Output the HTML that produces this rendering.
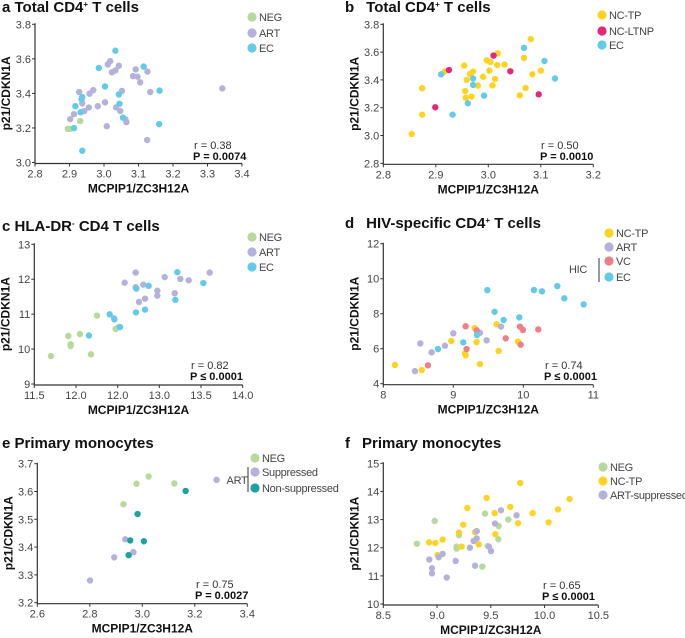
<!DOCTYPE html>
<html><head><meta charset="utf-8"><style>
body{margin:0;background:#fff;}
svg{display:block;font-family:"Liberation Sans",sans-serif;}
.tk{font-size:11px;fill:#444;}
.tt{font-size:15px;font-weight:bold;fill:#111;}
.at{font-size:12px;font-weight:bold;fill:#111;}
.lg{font-size:11px;fill:#444;letter-spacing:-0.3px;}
.st{font-size:11px;fill:#333;}
.sp{font-size:11px;font-weight:bold;fill:#111;}
</style></head><body>
<svg id="fig" width="685" height="638" viewBox="0 0 685 638"></svg>
<script>
// Panel a
const aNegX=[2.895,2.902,2.931];
const aNegY=[3.195,3.195,3.24];
const aArtX=[2.928,2.937,2.943,2.913,2.902,2.956,2.958,2.969,2.982,3.003,3.008,3.011,3.018,3.023,3.033,3.043,3.035,3.047,3.052,3.062,3.065,3.084,3.092,3.097,3.105,3.126,3.134,3.125,3.343];
const aArtY=[3.408,3.342,3.298,3.28,3.251,3.319,3.398,3.419,3.326,3.348,3.21,3.568,3.587,3.522,3.533,3.56,3.319,3.298,3.414,3.251,3.234,3.5,3.539,3.497,3.464,3.526,3.408,3.13,3.429];
const aEcX=[3.033,2.985,3.003,3.115,3.161,3.043,3.045,3.055,3.16,2.937,2.935,2.917,2.932,2.913,2.937];
const aEcY=[3.647,3.547,3.44,3.555,3.416,3.394,3.34,3.26,3.222,3.379,3.367,3.326,3.291,3.199,3.068];
const aXTicks=["2.8","2.9","3.0","3.1","3.2","3.3","3.4"];
const aYTicks=["3.0","3.2","3.4","3.6","3.8"];
// Panel b
const bTpX=[2.854,2.874,2.874,2.916,2.954,2.959,2.956,2.957,2.968,2.965,2.971,2.98,2.99,2.997,3.002,3.004,3.008,3.013,3.018,3.017,3.031,3.06,3.071,3.068,3.081,3.084,3.1];
const bTpY=[3.011,3.34,3.15,3.457,3.503,3.4,3.32,3.272,3.28,3.443,3.46,3.359,3.423,3.541,3.467,3.529,3.361,3.407,3.591,3.507,3.51,3.289,3.342,3.558,3.694,3.44,3.467];
const bLtX=[2.925,2.899,3.01,3.042,3.096];
const bLtY=[3.471,3.203,3.575,3.462,3.296];
const bEcX=[2.91,2.932,2.961,2.971,2.971,2.992,3.068,3.107,3.127];
const bEcY=[3.44,3.15,3.232,3.41,3.364,3.287,3.63,3.536,3.41];
const bXTicks=["2.8","2.9","3.0","3.1","3.2"];
const bYTicks=["2.8","3.0","3.2","3.4","3.6","3.8"];
// Panel c
const cNegX=[11.7,11.908,11.936,11.936,12.048,12.18,12.252,12.476,12.508];
const cNegY=[9.8,10.375,10.136,10.09,10.43,9.85,10.957,10.575,10.623];
const cArtX=[12.456,12.584,12.716,12.716,12.756,12.808,12.828,12.976,12.976,13.064,13.184,13.252,13.352,13.604];
const cArtY=[10.88,11.9,12.19,11.77,11.35,11.845,11.444,11.67,11.53,12.06,11.6,12.007,11.97,12.19];
const cEcX=[12.404,12.46,12.528,12.156,12.724,12.72,12.828,12.872,13.192,13.216,13.528];
const cEcY=[10.995,10.85,10.63,10.39,11.73,11.05,11.13,11.81,11.41,12.2,11.89];
const cXTicks=["11.5","12.0","12.0","13.0","13.5","14.0"];
const cYTicks=["9","10","11","12","13"];
// Panel d
const dTpX=[8.167,8.548,8.971,9.167,9.176,9.305,9.333,9.381,9.619,9.648,9.924];
const dTpY=[5.07,4.78,6.44,5.73,5.62,7.18,6.38,5.12,7.39,5.87,6.4];
const dArtX=[8.452,8.529,8.69,8.881,9.0,9.381,9.476,9.681];
const dArtY=[4.72,6.3,5.79,6.17,6.88,6.91,6.48,7.26];
const dVcX=[8.638,9.176,9.19,9.333,9.748,9.952,9.995,9.962,10.214];
const dVcY=[5.05,7.28,5.98,7.05,6.59,7.26,7.07,6.23,7.1];
const dEcX=[8.781,9.143,9.338,9.486,9.59,9.719,9.943,10.152,10.267,10.486,10.586,10.862];
const dEcY=[5.98,6.36,6.78,9.35,8.11,7.64,7.79,9.35,9.28,9.58,8.88,8.53];
const dXTicks=["8","9","10","11"];
const dYTicks=["4","6","8","10","12"];
// Panel e
const eNegX=[2.928,2.978,3.024,3.122];
const eNegY=[3.554,3.628,3.654,3.629];
const eSupX=[2.801,2.893,2.935,2.966,3.283];
const eSupY=[3.28,3.363,3.428,3.382,3.642];
const eNonX=[2.982,2.954,3.006,2.948,3.165];
const eNonY=[3.519,3.424,3.421,3.371,3.602];
const eXTicks=["2.6","2.8","3.0","3.2","3.4"];
const eYTicks=["3.2","3.3","3.4","3.5","3.6","3.7"];
// Panel f
const fNegX=[8.813,8.978,9.204,9.182,9.182,9.421,9.446,9.471,9.573,9.57,9.663];
const fNegY=[12.14,12.95,12.45,12.04,11.97,11.33,13.21,12.06,12.77,12.3,13.0];
const fTpX=[8.925,8.984,9.052,9.005,9.204,9.229,9.244,9.281,9.353,9.388,9.461,9.536,9.542,9.681,9.753,9.774,9.889,10.038,10.125,10.233];
const fTpY=[12.19,12.17,12.29,11.74,12.54,12.04,12.82,13.41,12.55,12.12,13.77,13.23,12.48,13.45,12.87,14.3,13.23,12.9,13.36,13.73];
const fArtX=[8.928,8.953,8.953,9.015,9.052,9.09,9.173,9.306,9.34,9.353,9.369,9.369,9.483,9.502,9.539,9.595,9.74];
const fArtY=[11.58,11.27,11.09,11.66,11.78,10.94,11.53,12.0,12.24,11.36,12.59,12.33,12.04,11.88,12.86,13.33,13.15];
const fXTicks=["8.5","9.0","9.5","10.0","10.5"];
const fYTicks=["10","11","12","13","14","15"];

const C={neg:"#b7d99c",art:"#b4b1dc",ec:"#62cbe9",tp:"#ffd31f",lt:"#e6267b",vc:"#ee7f88",non:"#1aa3a2"};
const NS="http://www.w3.org/2000/svg";
const svg=document.getElementById('fig');
function mk(tag,attrs,parent,text){const e=document.createElementNS(NS,tag);for(const k in attrs)e.setAttribute(k,attrs[k]);if(text!==undefined)e.textContent=text;(parent||svg).appendChild(e);return e;}

function panel(p){
  const g=mk('g',{});
  
  
  const sx=v=>p.px0+(v-p.dx0)/(p.dx1-p.dx0)*(p.px1-p.px0);
  const sy=v=>p.py0+(v-p.dy0)/(p.dy1-p.dy0)*(p.py1-p.py0);
  const ax=mk('path',{d:`M${p.px0} ${p.py1-1}V${p.py0+1}H${p.px1}`,stroke:'#333','stroke-width':1.2,fill:'none'},g);
  
  
  p.xt.forEach((t,i)=>{const v=p.dx0+i*(p.dx1-p.dx0)/(p.xt.length-1);const x=sx(v);
    mk('line',{x1:x,x2:x,y1:p.py0+1,y2:p.py0+4,stroke:'#333'},g);
    const tx=mk('text',{x:x,y:p.py0+15,'text-anchor':'middle',class:'tk'},g,t);
    
    });
  p.yt.forEach((t,i)=>{const v=p.dy0+i*(p.dy1-p.dy0)/(p.yt.length-1);const y=sy(v);
    mk('line',{x1:p.px0-3,x2:p.px0,y1:y,y2:y,stroke:'#333'},g);
    const tx=mk('text',{x:p.px0-4,y:y+4,'text-anchor':'end',class:'tk'},g,t);
    
    });
  p.series.forEach(s=>{s.x.forEach((xv,i)=>{
    const c=mk('circle',{cx:sx(xv),cy:sy(s.y[i]),r:3.2,fill:s.c},g);
    
    });});
  const xt=mk('text',{x:(p.px0+p.px1)/2,y:p.py0+30,'text-anchor':'middle',class:'at'},g,'MCPIP1/ZC3H12A');
  
  
  const yx=p.px0-25,yy=(p.py0+p.py1)/2;
  const yt=mk('text',{x:yx,y:yy,'text-anchor':'middle',class:'at',transform:`rotate(-90 ${yx} ${yy})`},g,'p21/CDKN1A');
  
  
  const r=mk('text',{x:p.sx,y:p.sy,class:'st'},g,p.r);
  
  
  const pv=mk('text',{x:p.sx-1,y:p.sy+11,class:'sp'},g,p.p);
  
  
  const tl=mk('text',{x:p.tx,y:p.ty,class:'tt'},g);
  
  
  tl.innerHTML=p.title;
  p.leg.forEach((l,i)=>{
    const lc=mk('circle',{cx:p.lx,cy:p.ly[i],r:4.6,fill:l[1]},g);
    
    
    const lt=mk('text',{x:p.lx+7,y:p.ly[i]+4,class:'lg'},g,l[0]);
    
    });
  return g;
}
panel({id:'a',px0:35,px1:242,dx0:2.8,dx1:3.4,py0:162.5,py1:24.3,dy0:3.0,dy1:3.8,xt:aXTicks,yt:aYTicks,
 series:[{n:'neg',x:aNegX,y:aNegY,c:C.neg},{n:'art',x:aArtX,y:aArtY,c:C.art},{n:'ec',x:aEcX,y:aEcY,c:C.ec}],
 sx:194,sy:149,r:'r = 0.38',p:'P = 0.0074',tx:2,ty:12,title:'a Total CD4<tspan font-size="8" dy="-5">+</tspan><tspan dy="5"> T cells</tspan>',
 lx:252,ly:[17,33,48],leg:[['NEG',C.neg],['ART',C.art],['EC',C.ec]]});
panel({id:'b',px0:383.3,px1:593.3,dx0:2.8,dx1:3.2,py0:163.3,py1:24.3,dy0:2.8,dy1:3.8,xt:bXTicks,yt:bYTicks,
 series:[{n:'nc-tp',x:bTpX,y:bTpY,c:C.tp},{n:'nc-ltnp',x:bLtX,y:bLtY,c:C.lt},{n:'ec',x:bEcX,y:bEcY,c:C.ec}],
 sx:541,sy:149,r:'r = 0.50',p:'P = 0.0010',tx:345,ty:12,title:'b<tspan dx="12">Total CD4</tspan><tspan font-size="8" dy="-5">+</tspan><tspan dy="5"> T cells</tspan>',
 lx:602,ly:[15,31,45],leg:[['NC-TP',C.tp],['NC-LTNP',C.lt],['EC',C.ec]]});
panel({id:'c',px0:34.3,px1:242.7,dx0:11.5,dx1:14,py0:384,py1:244.3,dy0:9,dy1:13,xt:cXTicks,yt:cYTicks,
 series:[{n:'neg',x:cNegX,y:cNegY,c:C.neg},{n:'art',x:cArtX,y:cArtY,c:C.art},{n:'ec',x:cEcX,y:cEcY,c:C.ec}],
 sx:191,sy:369,r:'r = 0.82',p:'P ≤ 0.0001',tx:2,ty:231,title:'c HLA-DR<tspan font-size="8" dy="-5">-</tspan><tspan dy="5"> CD4 T cells</tspan>',
 lx:252,ly:[237,252,267],leg:[['NEG',C.neg],['ART',C.art],['EC',C.ec]]});
panel({id:'d',px0:383.3,px1:593.3,dx0:8,dx1:11,py0:383.7,py1:243.7,dy0:4,dy1:12,xt:dXTicks,yt:dYTicks,
 series:[{n:'nc-tp',x:dTpX,y:dTpY,c:C.tp},{n:'art',x:dArtX,y:dArtY,c:C.art},{n:'vc',x:dVcX,y:dVcY,c:C.vc},{n:'ec',x:dEcX,y:dEcY,c:C.ec}],
 sx:545,sy:369,r:'r = 0.74',p:'P ≤ 0.0001',tx:345,ty:228,title:'d<tspan dx="12">HIV-specific CD4</tspan><tspan font-size="8" dy="-5">+</tspan><tspan dy="5"> T cells</tspan>',
 lx:609,ly:[233,247,261,277],leg:[['NC-TP',C.tp],['ART',C.art],['VC',C.vc],['EC',C.ec]]});
panel({id:'e',px0:37.3,px1:247.3,dx0:2.6,dx1:3.4,py0:602.7,py1:463.7,dy0:3.2,dy1:3.7,xt:eXTicks,yt:eYTicks,
 series:[{n:'neg',x:eNegX,y:eNegY,c:C.neg},{n:'suppressed',x:eSupX,y:eSupY,c:C.art},{n:'non-suppressed',x:eNonX,y:eNonY,c:C.non}],
 sx:196,sy:588,r:'r = 0.75',p:'P = 0.0027',tx:2,ty:448,title:'e Primary monocytes',
 lx:255,ly:[458,472,488],leg:[['NEG',C.neg],['Suppressed',C.art],['Non-suppressed',C.non]]});
panel({id:'f',px0:383.3,px1:598.3,dx0:8.5,dx1:10.5,py0:604,py1:463.3,dy0:10,dy1:15,xt:fXTicks,yt:fYTicks,
 series:[{n:'neg',x:fNegX,y:fNegY,c:C.neg},{n:'nc-tp',x:fTpX,y:fTpY,c:C.tp},{n:'art-suppressed',x:fArtX,y:fArtY,c:C.art}],
 sx:543,sy:589,r:'r = 0.65',p:'P ≤ 0.0001',tx:345,ty:448,title:'f<tspan dx="12">Primary monocytes</tspan>',
 lx:603,ly:[467,481,495],leg:[['NEG',C.neg],['NC-TP',C.tp],['ART-suppressed',C.art]]});
// group labels
const hic=mk('text',{x:578,y:273,class:'lg','text-anchor':'middle'},svg,'HIC');


mk('line',{x1:599,x2:599,y1:258,y2:282,stroke:'#333'});
const art=mk('text',{x:237,y:484,class:'lg','text-anchor':'middle'},svg,'ART');


mk('line',{x1:248,x2:248,y1:467,y2:492,stroke:'#333'});
</script>
</body></html>
